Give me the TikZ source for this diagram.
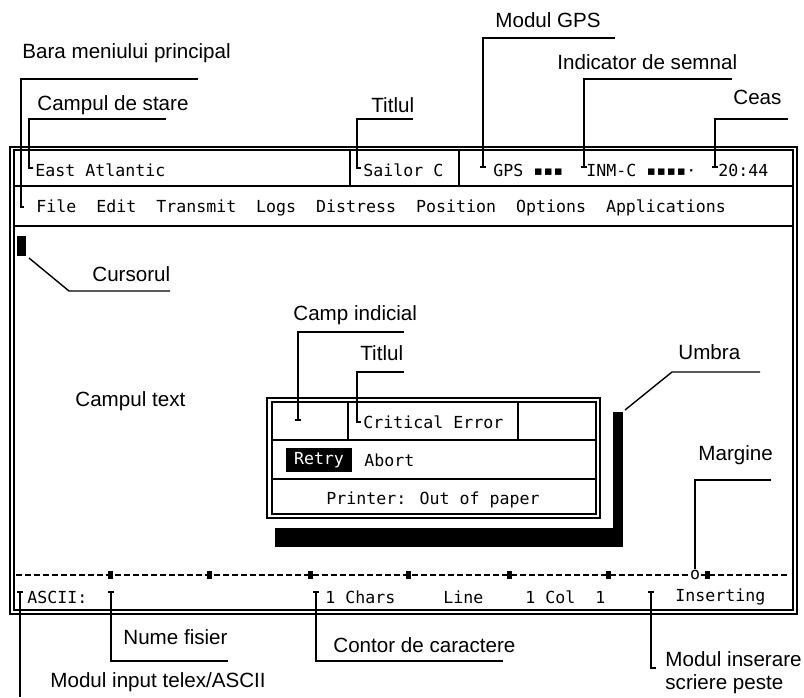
\documentclass[tikz,border=0pt]{standalone}
\usepackage{fontspec}
\setmainfont{Liberation Sans}
\newfontfamily\scrfont{DejaVu Sans Mono}
\begin{document}
\begin{tikzpicture}[x=0.5pt,y=-0.5pt,
    lbl/.style={anchor=west,inner sep=0pt,font=\fontsize{10.3}{11.5}\selectfont},
    scr/.style={anchor=west,inner sep=0pt,font=\scrfont\fontsize{8.3}{10}\selectfont},
    leader/.style={line width=0.7pt},
    frame/.style={line width=0.7pt},
    shade/.style={fill=black,draw=none}]
  \useasboundingbox (0,0) rectangle (804,697);

  % screen frame
  \draw[frame] (10,147) rectangle (797,614);
  \draw[frame] (14,150) rectangle (793,610);
  \draw[frame] (14,186) -- (793,186);
  \draw[frame] (14,226) -- (793,226);
  \draw[frame] (350,150) -- (350,186);
  \draw[frame] (459,150) -- (459,186);

  % status line and menu
  \node[scr] (stEast) at (35,170) {East Atlantic};
  \node[scr] (stSailor) at (363,170) {Sailor C};
  \node[scr] (stGPS) at (493,170) {GPS ▪▪▪};
  \node[scr] (stINM) at (586,170) {INM-C ▪▪▪▪·};
  \node[scr] (stClock) at (718,170) {20:44};
  \node[scr] (menu) at (36,208) {File~~Edit~~Transmit~~Logs~~Distress~~Position~~Options~~Applications};

  % cursor
  \fill (17,236) rectangle (26,256);

  % dialog with shadow
  \fill[shade] (613,412) rectangle (623,547);
  \fill[shade] (275,528) rectangle (623,547);
  \draw[frame,fill=white] (267,398) rectangle (600,518);
  \draw[frame] (272,402) rectangle (596,514);
  \draw[frame] (272,440) -- (596,440);
  \draw[frame] (272,479) -- (596,479);
  \draw[frame] (348,402) -- (348,440);
  \draw[frame] (518,402) -- (518,440);
  \node[scr] (dlgTitle) at (363,422) {Critical Error};
  \node[scr,fill=black,text=white,inner xsep=4pt,inner ysep=2pt,anchor=center] (retry) at (319,460) {Retry};
  \node[scr] (abort) at (364,460) {Abort};
  \node[scr,anchor=center] (printer) at (433,500) {Printer: Out of paper};

  % ruler and bottom status line
  \draw[frame,dash pattern=on 3pt off 1.5pt] (16,575) -- (790,575);
  \foreach \x in {110,209,310,408,509,608,707}
    \fill (\x-2.5,571) rectangle (\x+2.5,579);
  \node[scr,anchor=center,fill=white,inner sep=0.5pt] (margMark) at (695,575) {o};
  \node[scr] (ascii) at (27,597) {ASCII:};
  \node[scr] (chars) at (325,597) {1 Chars};
  \node[scr] (line) at (443,597) {Line};
  \node[scr] (col) at (525,597) {1 Col~~1};
  \node[scr] (insert) at (675,597) {Inserting};

  % labels
  \node[lbl] (bara) at (22,53) {Bara meniului principal};
  \node[lbl] (stare) at (37,105) {Campul de stare};
  \node[lbl] (titlu) at (371,105) {Titlul};
  \node[lbl] (gps) at (495,20) {Modul GPS};
  \node[lbl] (semnal) at (557,62) {Indicator de semnal};
  \node[lbl] (ceas) at (733,97) {Ceas};
  \node[lbl] (cursor) at (92,274) {Cursorul};
  \node[lbl] (text) at (75,401) {Campul text};
  \node[lbl] (indicial) at (293,315) {Camp indicial};
  \node[lbl] (titluDlg) at (360,353) {Titlul};
  \node[lbl] (umbra) at (678,352) {Umbra};
  \node[lbl] (margine) at (698,455) {Margine};
  \node[lbl] (fisier) at (123,637) {Nume fisier};
  \node[lbl] (contor) at (333,645) {Contor de caractere};
  \node[lbl] (telex) at (50,682) {Modul input telex/ASCII};
  \node[lbl,align=left] (inserare) at (665,673) {Modul inserare\\scriere peste};

  % leader lines
  \coordinate (baraTip) at (21,207);
  \coordinate (stareTip) at (29,168);
  \coordinate (titluTip) at (357,168);
  \coordinate (gpsTip) at (483,167);
  \coordinate (semnalTip) at (584,167);
  \coordinate (ceasTip) at (715,167);
  \draw[leader] (baraTip) ++(3,0) -- (baraTip) |- (198,79);
  \draw[leader] (stareTip) ++(4,0) -- (stareTip) |- (166,119);
  \draw[leader] (titluTip) ++(4,0) -- (titluTip) |- (413,119);
  \draw[leader] (gpsTip) ++(-3,0) -- ++(6,0) (gpsTip) |- (615,38);
  \draw[leader] (semnalTip) ++(-3,0) -- ++(6,0) (semnalTip) |- (732,79);
  \draw[leader] (ceasTip) ++(-3,0) -- ++(6,0) (ceasTip) |- (788,119);
  \draw[leader] (29,258) -- (69,291) -- (170,291);
  \coordinate (indicialTip) at (298,420);
  \coordinate (titluDlgTip) at (357,422);
  \draw[leader] (indicialTip) ++(-3,0) -- ++(6,0) (indicialTip) |- (404,332);
  \draw[leader] (titluDlgTip) ++(4,0) -- (titluDlgTip) |- (404,372);
  \draw[leader] (625,410) -- (672,372) -- (760,372);
  \draw[leader] (margMark.north) |- (771,480);
  \coordinate (telexTip) at (20,592);
  \coordinate (fisierTip) at (111,592);
  \coordinate (contorTip) at (316,592);
  \coordinate (inserareTip) at (651,592);
  \draw[leader] (telexTip) ++(-3,0) -- ++(6,0) (telexTip) -- (20,697);
  \draw[leader] (fisierTip) ++(-3,0) -- ++(6,0) (fisierTip) |- (228,661);
  \draw[leader] (contorTip) ++(-3,0) -- ++(6,0) (contorTip) |- (503,661);
  \draw[leader] (inserareTip) ++(-3,0) -- ++(6,0) (inserareTip) |- (656,668);
\end{tikzpicture}
\end{document}
